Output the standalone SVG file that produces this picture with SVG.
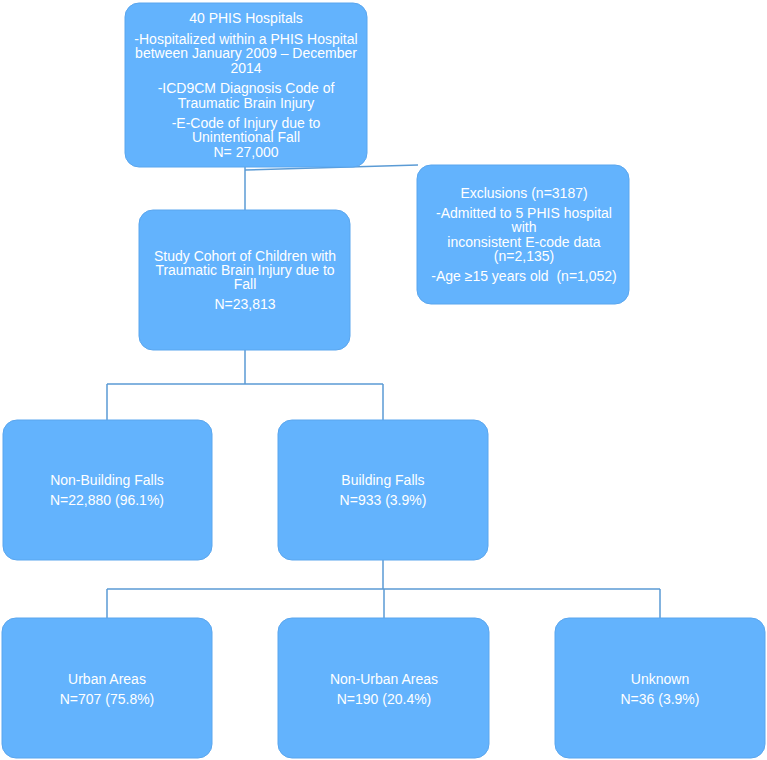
<svg xmlns="http://www.w3.org/2000/svg" width="767" height="760" viewBox="0 0 767 760">
<style>
.box{fill:#63b3fd;stroke:#5aa6ee;stroke-width:1}
.t{font-family:"Liberation Sans",Arial,sans-serif;font-size:14px;fill:#ffffff;text-anchor:middle}
.c{fill:none;stroke:#5b9bd5;stroke-width:1.5}
</style>
<rect width="767" height="760" fill="#ffffff"/>
<g id="connectors">
<path class="c" d="M245,167 L245,211"/>
<path class="c" d="M245,170 L418,165"/>
<path class="c" d="M245,350 L245,384 M107,384 L383,384 M107,384 L107,420 M383,384 L383,420"/>
<path class="c" d="M383,560 L383,589 M107,589 L660,589 M107,589 L107,618 M384,589 L384,618 M660,589 L660,618"/>
</g>
<g id="n_hospitals">
<rect class="box" x="125" y="3" width="242" height="164" rx="14"/>
<text class="t" x="246" y="23">40 PHIS Hospitals</text>
<text class="t" x="246" y="44">-Hospitalized within a PHIS Hospital</text>
<text class="t" x="246" y="58">between January 2009 – December</text>
<text class="t" x="246" y="73">2014</text>
<text class="t" x="246" y="93">-ICD9CM Diagnosis Code of</text>
<text class="t" x="246" y="108">Traumatic Brain Injury</text>
<text class="t" x="246" y="128">-E-Code of Injury due to</text>
<text class="t" x="246" y="142">Unintentional Fall</text>
<text class="t" x="246" y="157">N= 27,000</text>
</g>
<g id="n_exclusions">
<rect class="box" x="417" y="165" width="212" height="139" rx="14"/>
<text class="t" x="524" y="198">Exclusions (n=3187)</text>
<text class="t" x="524" y="218">-Admitted to 5 PHIS hospital</text>
<text class="t" x="524" y="232">with</text>
<text class="t" x="524" y="247">inconsistent E-code data</text>
<text class="t" x="524" y="261">(n=2,135)</text>
<text class="t" x="524" y="281" xml:space="preserve">-Age ≥15 years old  (n=1,052)</text>
</g>
<g id="n_cohort">
<rect class="box" x="139" y="210" width="211" height="140" rx="14"/>
<text class="t" x="245" y="261">Study Cohort of Children with</text>
<text class="t" x="245" y="275">Traumatic Brain Injury due to</text>
<text class="t" x="245" y="289">Fall</text>
<text class="t" x="245" y="309">N=23,813</text>
</g>
<g id="n_nonbuilding">
<rect class="box" x="3" y="420" width="209" height="140" rx="14"/>
<text class="t" x="107" y="485">Non-Building Falls</text>
<text class="t" x="107" y="505">N=22,880 (96.1%)</text>
</g>
<g id="n_building">
<rect class="box" x="278" y="420" width="210" height="140" rx="14"/>
<text class="t" x="383" y="485">Building Falls</text>
<text class="t" x="383" y="505">N=933 (3.9%)</text>
</g>
<g id="n_urban">
<rect class="box" x="2" y="618" width="210" height="140" rx="14"/>
<text class="t" x="107" y="684">Urban Areas</text>
<text class="t" x="107" y="704">N=707 (75.8%)</text>
</g>
<g id="n_nonurban">
<rect class="box" x="278" y="618" width="211" height="140" rx="14"/>
<text class="t" x="384" y="684">Non-Urban Areas</text>
<text class="t" x="384" y="704">N=190 (20.4%)</text>
</g>
<g id="n_unknown">
<rect class="box" x="555" y="618" width="210" height="140" rx="14"/>
<text class="t" x="660" y="684">Unknown</text>
<text class="t" x="660" y="704">N=36 (3.9%)</text>
</g>
</svg>
